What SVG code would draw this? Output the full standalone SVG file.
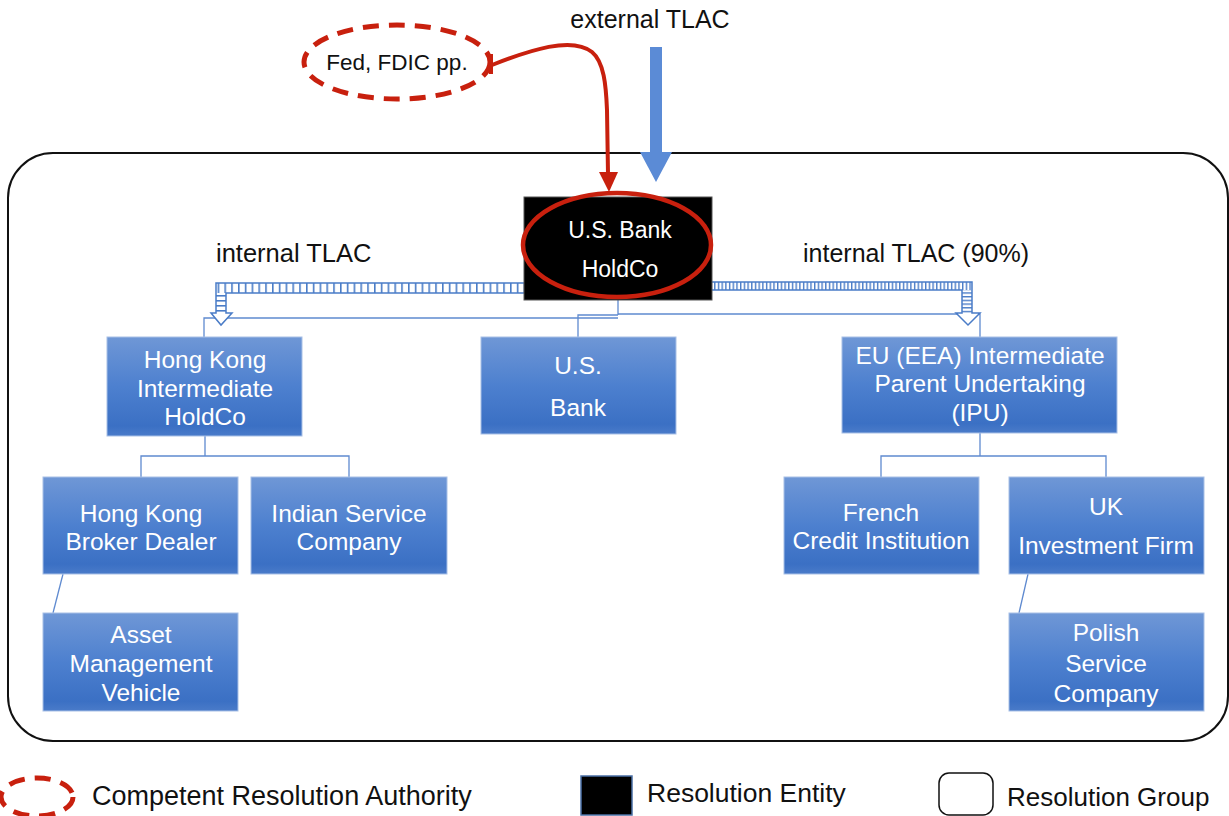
<svg xmlns="http://www.w3.org/2000/svg" width="1229" height="816" viewBox="0 0 1229 816">
<style>
  .lbl{font-family:"Liberation Sans",Arial,sans-serif;fill:#111;}
  .bx{fill:url(#boxGrad);stroke:#a8c0e6;stroke-width:1;}
  .bt{font-family:"Liberation Sans",Arial,sans-serif;font-size:24.5px;fill:#fff;text-anchor:middle;}
  .conn{fill:none;stroke:#5f8ad0;stroke-width:1.3;}
  .red{stroke:#c8200e;}
</style>
<defs>
  <linearGradient id="boxGrad" x1="0" y1="0" x2="0" y2="1">
    <stop offset="0" stop-color="#6f97d6"/>
    <stop offset="0.5" stop-color="#4d80cf"/>
    <stop offset="0.9" stop-color="#3b70c4"/>
    <stop offset="1" stop-color="#4a7bc9"/>
  </linearGradient>
  <pattern id="stripeL" patternUnits="userSpaceOnUse" width="6.8" height="10">
    <rect width="6.8" height="10" fill="#fff"/>
    <rect x="0" y="0" width="1.6" height="10" fill="#4a7cc7"/>
  </pattern>
  <pattern id="stripeLv" patternUnits="userSpaceOnUse" width="10" height="5">
    <rect width="10" height="5" fill="#fff"/>
    <rect x="0" y="0" width="10" height="1.6" fill="#4a7cc7"/>
  </pattern>
  <pattern id="stripeR" patternUnits="userSpaceOnUse" width="3.7" height="10">
    <rect width="3.7" height="10" fill="#fff"/>
    <rect x="0" y="0" width="1.4" height="10" fill="#4a7cc7"/>
  </pattern>
  <pattern id="stripeRv" patternUnits="userSpaceOnUse" width="10" height="3.7">
    <rect width="10" height="3.7" fill="#fff"/>
    <rect x="0" y="0" width="10" height="1.4" fill="#4a7cc7"/>
  </pattern>
</defs>

<!-- Resolution group boundary -->
<rect id="group" x="8" y="153" width="1220" height="588" rx="45" ry="45" fill="none" stroke="#111" stroke-width="2"/>

<!-- connectors -->
<g id="connectors">
  <path class="conn" d="M618 300 V315 M204 337 V318 H618 M578 337 V315 H618 M618 314 H980 V337"/>
  <path class="conn" d="M205 436 V456 M141 477 V456 H349 V477"/>
  <path class="conn" d="M980 433 V456 M881 477 V456 H1106 V477"/>
  <path class="conn" d="M63 574 L53 613"/>
  <path class="conn" d="M1028 574 L1019 613"/>

  <!-- internal TLAC left -->
  <g id="tlac-left">
    <rect x="216" y="283" width="308" height="10" fill="url(#stripeL)"/>
    <rect x="216" y="293" width="10" height="20" fill="url(#stripeLv)"/>
    <path d="M211 313 H232 L221 325 Z" fill="#fff"/>
    <path d="M524 283 H216 V313 H211 L221 325 L232 313 H226 V293 H524" fill="none" stroke="#4a7cc7" stroke-width="1.5" stroke-linejoin="miter"/>
  </g>
  <!-- internal TLAC right -->
  <g id="tlac-right">
    <rect x="712" y="282" width="260" height="8" fill="url(#stripeR)"/>
    <rect x="962" y="290" width="10" height="23" fill="url(#stripeRv)"/>
    <path d="M956 313 H980 L968 325 Z" fill="#fff"/>
    <path d="M712 282 H972 V313 H980 L968 325 L956 313 H962 V290 H712" fill="none" stroke="#4a7cc7" stroke-width="1.5"/>
  </g>

  <!-- external TLAC arrow -->
  <g id="ext-arrow">
    <rect x="650" y="47" width="12" height="106" fill="#5b8bd6"/>
    <path d="M640 152 H672 L656 182 Z" fill="#5b8bd6"/>
  </g>

  <!-- red authority arrow -->
  <g id="auth-arrow">
    <path class="red" d="M492 65 C530 50 572 36 592 52 C604 62 606 85 607 110 L608 174" fill="none" stroke-width="4"/>
    <line class="red" x1="491" y1="54" x2="491" y2="74" stroke-width="4"/>
    <path d="M599 172 H618 L609 192 Z" fill="#c8200e"/>
  </g>
</g>

<!-- labels -->
<text class="lbl" x="650" y="28" font-size="25" text-anchor="middle">external TLAC</text>
<text class="lbl" x="216" y="262" font-size="25.5">internal TLAC</text>
<text class="lbl" x="803" y="262" font-size="25">internal TLAC (90%)</text>

<!-- Fed / FDIC authority -->
<g id="fed">
  <ellipse cx="397" cy="62" rx="93" ry="37" fill="none" stroke="#c8200e" stroke-width="5" stroke-dasharray="16 10"/>
  <text class="lbl" x="397" y="70" font-size="22.5" text-anchor="middle">Fed, FDIC pp.</text>
</g>

<!-- US Bank HoldCo -->
<g id="holdco">
  <rect x="524" y="197" width="188" height="103" fill="#000" stroke="#555" stroke-width="1"/>
  <ellipse cx="617" cy="245" rx="94" ry="52" fill="none" stroke="#c8200e" stroke-width="4.5"/>
  <text x="620" y="238" font-family="Liberation Sans,Arial,sans-serif" font-size="23" fill="#fff" text-anchor="middle">U.S. Bank</text>
  <text x="620" y="277" font-family="Liberation Sans,Arial,sans-serif" font-size="23" fill="#fff" text-anchor="middle">HoldCo</text>
</g>

<g id="hk-ihc">
  <rect class="bx" x="107" y="337" width="195" height="99"/>
  <text class="bt" x="205" y="368">Hong Kong</text>
  <text class="bt" x="205" y="397">Intermediate</text>
  <text class="bt" x="205" y="425">HoldCo</text>
</g>
<g id="us-bank">
  <rect class="bx" x="481" y="337" width="195" height="97"/>
  <text class="bt" x="578" y="374">U.S.</text>
  <text class="bt" x="578" y="416">Bank</text>
</g>
<g id="eu-ipu">
  <rect class="bx" x="842" y="337" width="275" height="96"/>
  <text class="bt" x="980" y="364">EU (EEA) Intermediate</text>
  <text class="bt" x="980" y="392">Parent Undertaking</text>
  <text class="bt" x="980" y="421">(IPU)</text>
</g>
<g id="hk-bd">
  <rect class="bx" x="43" y="477" width="195" height="97"/>
  <text class="bt" x="141" y="522">Hong Kong</text>
  <text class="bt" x="141" y="550">Broker Dealer</text>
</g>
<g id="indian">
  <rect class="bx" x="251" y="477" width="196" height="97"/>
  <text class="bt" x="349" y="522">Indian Service</text>
  <text class="bt" x="349" y="550">Company</text>
</g>
<g id="amv">
  <rect class="bx" x="43" y="613" width="195" height="98"/>
  <text class="bt" x="141" y="643">Asset</text>
  <text class="bt" x="141" y="672">Management</text>
  <text class="bt" x="141" y="701">Vehicle</text>
</g>
<g id="french">
  <rect class="bx" x="784" y="477" width="195" height="97"/>
  <text class="bt" x="881" y="521">French</text>
  <text class="bt" x="881" y="549" font-size="25.5">Credit Institution</text>
</g>
<g id="uk">
  <rect class="bx" x="1009" y="477" width="195" height="97"/>
  <text class="bt" x="1106" y="515">UK</text>
  <text class="bt" x="1106" y="554">Investment Firm</text>
</g>
<g id="polish">
  <rect class="bx" x="1009" y="613" width="195" height="98"/>
  <text class="bt" x="1106" y="641">Polish</text>
  <text class="bt" x="1106" y="672">Service</text>
  <text class="bt" x="1106" y="702">Company</text>
</g>

<!-- legend -->
<g id="legend">
  <ellipse cx="37" cy="797" rx="36" ry="19" fill="none" stroke="#c8200e" stroke-width="5" stroke-dasharray="16 10"/>
  <text class="lbl" x="92" y="805" font-size="27">Competent Resolution Authority</text>
  <rect x="581" y="776" width="51" height="39" fill="#000" stroke="#4a6fa5" stroke-width="1.5"/>
  <text class="lbl" x="647" y="802" font-size="26.5">Resolution Entity</text>
  <rect x="939" y="773" width="54" height="42" rx="10" ry="10" fill="#fff" stroke="#111" stroke-width="1.5"/>
  <text class="lbl" x="1007" y="806" font-size="26">Resolution Group</text>
</g>
</svg>
